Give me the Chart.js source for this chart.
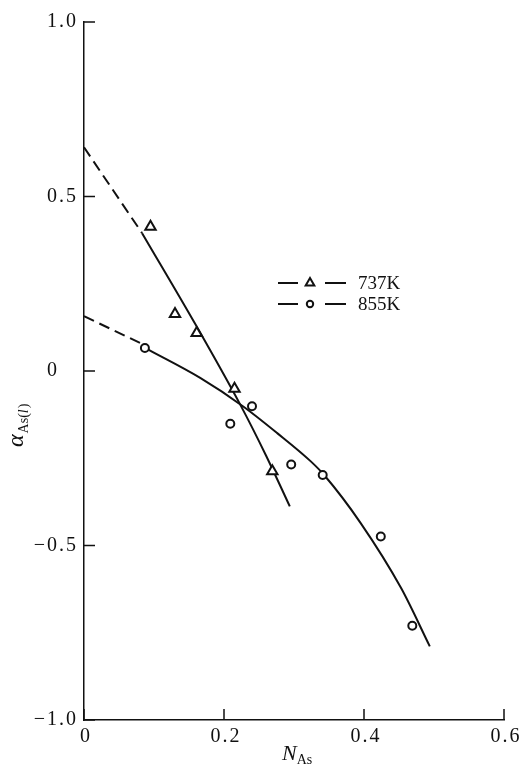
<!DOCTYPE html>
<html>
<head>
<meta charset="utf-8">
<script src="https://cdn.jsdelivr.net/npm/chart.js@4.4.0/dist/chart.umd.min.js"></script>
<style>
  html, body { margin: 0; padding: 0; background: #fff; }
  canvas { display: block; }
</style>
</head>
<body>
<canvas id="myChart" width="530" height="769"></canvas>
<script>
// measured points
const triX  = [0.095, 0.130, 0.161, 0.215, 0.269];
const triY  = [0.413, 0.163, 0.109, -0.051, -0.287];
const circX = [0.087, 0.209, 0.240, 0.296, 0.341, 0.424, 0.469];
const circY = [0.066, -0.151, -0.101, -0.268, -0.298, -0.474, -0.730];

// fitted curves (dashed = extrapolation to N = 0)
const fit737DashX = [0, 0.083];
const fit737DashY = [0.641, 0.395];
const fit737X = [0.083, 0.160, 0.2234, 0.260, 0.294];
const fit737Y = [0.395, 0.131, -0.097, -0.242, -0.388];
const fit855DashX = [0, 0.087];
const fit855DashY = [0.157, 0.074];
const fit855X = [0.087, 0.166, 0.227, 0.276, 0.324, 0.343, 0.395, 0.453, 0.494];
const fit855Y = [0.066, -0.020, -0.101, -0.178, -0.259, -0.298, -0.435, -0.622, -0.789];

const xTicks = [0, 0.2, 0.4, 0.6];
const xTickLabels = ['0', '0.2', '0.4', '0.6'];
const yTicks = [1.0, 0.5, 0, -0.5, -1.0];
const yTickLabels = ['1.0', '0.5', '0', '\u22120.5', '\u22121.0'];
const seriesNames = ['737K', '855K'];

const ink = '#111';
const serif = '"Liberation Serif", "DejaVu Serif", serif';
const pts = (xs, ys) => xs.map((x, i) => ({ x, y: ys[i] }));

const decor = {
  id: 'decor',
  afterDraw(chart) {
    const { ctx, chartArea: a, scales: { x, y } } = chart;
    ctx.save();
    ctx.strokeStyle = ink;
    ctx.fillStyle = ink;
    ctx.lineWidth = 1.5;

    // ticks point inward
    ctx.beginPath();
    yTicks.forEach(v => {
      const py = y.getPixelForValue(v);
      ctx.moveTo(a.left, py); ctx.lineTo(a.left + 11, py);
    });
    xTicks.forEach(v => {
      const px = x.getPixelForValue(v);
      ctx.moveTo(px, a.bottom); ctx.lineTo(px, a.bottom - 11);
    });
    ctx.stroke();

    // tick labels, y ones lined up on the decimal point
    ctx.font = '20px ' + serif;
    ctx.letterSpacing = '2px';
    ctx.textBaseline = 'middle';
    const dec = a.left - 25;
    yTicks.forEach((v, i) => {
      const py = y.getPixelForValue(v);
      const [ip, fp] = yTickLabels[i].split('.');
      ctx.textAlign = 'right';
      ctx.fillText(ip, dec, py);
      if (fp !== undefined) {
        ctx.textAlign = 'left';
        ctx.fillText('.' + fp, dec, py);
      }
    });
    ctx.textAlign = 'center';
    xTicks.forEach((v, i) => {
      ctx.fillText(xTickLabels[i], x.getPixelForValue(v) + 2, a.bottom + 17);
    });
    ctx.letterSpacing = '0px';

    // x title  N_As
    ctx.textAlign = 'left';
    ctx.textBaseline = 'alphabetic';
    ctx.font = 'italic 22px ' + serif;
    ctx.fillText('N', 282, 760);
    const nw = ctx.measureText('N').width;
    ctx.font = '14px ' + serif;
    ctx.fillText('As', 282 + nw, 764);

    // y title  alpha_As(l), rotated
    ctx.save();
    ctx.translate(23, 447);
    ctx.rotate(-Math.PI / 2);
    ctx.font = 'italic 24px ' + serif;
    ctx.fillText('\u03b1', 0, 0);
    let cx = ctx.measureText('\u03b1').width + 1;
    ctx.font = '14px ' + serif;
    ctx.fillText('As(', cx, 5);
    cx += ctx.measureText('As(').width;
    ctx.font = 'italic 14px ' + serif;
    ctx.fillText('l', cx, 5);
    cx += ctx.measureText('l').width + 1;
    ctx.font = '14px ' + serif;
    ctx.fillText(')', cx, 5);
    ctx.restore();

    // legend
    const rows = [283, 304];
    ctx.lineWidth = 2;
    rows.forEach((ry, i) => {
      ctx.beginPath();
      ctx.moveTo(278, ry); ctx.lineTo(298, ry);
      ctx.moveTo(325, ry); ctx.lineTo(346, ry);
      ctx.stroke();
      ctx.beginPath();
      if (i === 0) {
        const r = 5;
        ctx.moveTo(310, ry - r);
        ctx.lineTo(310 + r * 0.866, ry + r * 0.5);
        ctx.lineTo(310 - r * 0.866, ry + r * 0.5);
        ctx.closePath();
      } else {
        ctx.arc(310, ry, 3.2, 0, Math.PI * 2);
      }
      ctx.fillStyle = '#fff';
      ctx.fill();
      ctx.stroke();
      ctx.fillStyle = ink;
      ctx.font = '19px ' + serif;
      ctx.textBaseline = 'middle';
      ctx.fillText(seriesNames[i], 358, ry + 1);
    });
    ctx.restore();
  }
};

const lineDs = (data, dashed) => ({
  type: 'line',
  data,
  showLine: true,
  borderColor: ink,
  borderWidth: 2,
  borderDash: dashed ? [11, 6] : [],
  pointRadius: 0,
  fill: false,
  cubicInterpolationMode: 'monotone',
});

const ctx = document.getElementById('myChart').getContext('2d');
new Chart(ctx, {
  type: 'scatter',
  data: {
    datasets: [
      {
        label: seriesNames[0],
        data: pts(triX, triY),
        pointStyle: 'triangle',
        pointRadius: 6,
        borderColor: ink,
        backgroundColor: '#fff',
        borderWidth: 2,
      },
      {
        label: seriesNames[1],
        data: pts(circX, circY),
        pointStyle: 'circle',
        pointRadius: 4,
        borderColor: ink,
        backgroundColor: '#fff',
        borderWidth: 2,
      },
      lineDs(pts(fit737DashX, fit737DashY), true),
      lineDs(pts(fit737X, fit737Y), false),
      lineDs(pts(fit855DashX, fit855DashY), true),
      lineDs(pts(fit855X, fit855Y), false),
    ]
  },
  options: {
    responsive: false,
    animation: false,
    devicePixelRatio: 1,
    layout: { padding: { left: 0, top: 22, right: 26, bottom: 0 } },
    plugins: { legend: { display: false }, tooltip: { enabled: false } },
    scales: {
      x: {
        type: 'linear', min: 0, max: 0.6,
        grid: { display: false },
        ticks: { display: false },
        border: { display: true, color: ink, width: 1.5 },
        afterFit: s => { s.height = 49; },
      },
      y: {
        type: 'linear', min: -1, max: 1,
        grid: { display: false },
        ticks: { display: false },
        border: { display: true, color: ink, width: 1.5 },
        afterFit: s => { s.width = 84; },
      }
    }
  },
  plugins: [decor]
});
</script>
</body>
</html>
